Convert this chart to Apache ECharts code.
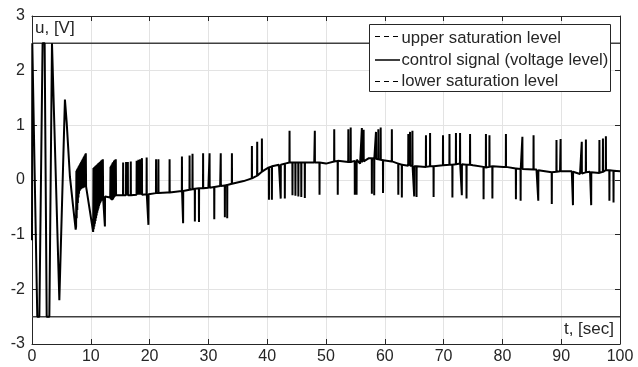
<!DOCTYPE html>
<html><head><meta charset="utf-8">
<script src="https://cdn.jsdelivr.net/npm/echarts@6/dist/echarts.min.js"></script>
<style>html,body{margin:0;padding:0;background:#fff}#c{width:638px;height:367px}</style>
</head><body><div id="c"></div>
<script>
// x ticks and y ticks
const xTicks = [0,10,20,30,40,50,60,70,80,90,100];
const yTicks = [-3,-2,-1,0,1,2,3];
const upperLevel = 2.5;
const lowerLevel = -2.5;
// base path of the control signal [t, u]
const basePath = [
[0,-1.1],[0.05,2.5],[0.3,2.5],[0.9,-2.5],[1.25,-2.5],[1.8,2.5],[2.15,2.5],[2.5,-2.5],[2.95,-2.5],[3.4,2.5],[3.74,2.5],[4.65,-2.2],[5.6,1.47],[5.9,1.05],[6.45,0.06],[7.0,-0.49],[7.43,-0.91],
[7.50,-0.85],[7.55,0.17],[7.60,-0.7],[7.65,0.19],[7.70,-0.55],[7.75,0.21],[7.80,-0.42],[7.85,0.23],[7.90,-0.32],[7.95,0.25],[8.00,-0.25],[8.05,0.27],[8.10,-0.2],[8.15,0.29],[8.20,-0.18],[8.25,0.31],[8.30,-0.17],[8.35,0.33],[8.40,-0.16],[8.45,0.35],[8.50,-0.15],[8.55,0.37],[8.60,-0.15],[8.65,0.39],[8.70,-0.14],[8.75,0.41],[8.80,-0.14],[8.85,0.43],[8.90,-0.13],[8.95,0.45],[9.00,-0.13],[9.05,0.47],[9.10,-0.12],[9.15,0.49],[9.20,-0.12],
[9.5,-0.12],[10.4,-0.95],
[10.45,0.22],[10.5,-0.9],[10.55,0.23],[10.6,-0.85],[10.65,0.24],[10.7,-0.8],[10.75,0.25],[10.8,-0.75],[10.85,0.26],[10.9,-0.7],[10.95,0.27],[11.0,-0.65],[11.05,0.28],[11.1,-0.6],[11.15,0.29],[11.2,-0.56],[11.25,0.3],[11.3,-0.52],[11.35,0.31],[11.4,-0.48],[11.45,0.32],[11.5,-0.45],[11.55,0.33],[11.6,-0.42],[11.65,0.34],[11.7,-0.4],[11.75,0.35],[11.8,-0.38],[11.85,0.36],[11.9,-0.37],[11.95,0.37],[12.0,-0.36],[12.05,0.38],[12.1,-0.33],
[12.6,-0.3],[13.3,-0.32],
[13.35,0.24],[13.4,-0.35],[13.45,0.26],[13.5,-0.36],[13.55,0.28],[13.6,-0.37],[13.65,0.3],[13.7,-0.36],[13.75,0.32],[13.8,-0.35],[13.85,0.33],[13.9,-0.33],[13.95,0.35],[14.0,-0.31],[14.05,0.36],[14.1,-0.3],[14.15,0.37],[14.2,-0.29],[14.25,0.38],[14.3,-0.28],
[15,-0.28],[18,-0.27],[20,-0.25],[23,-0.23],[25.5,-0.2],[27.5,-0.16],[30,-0.14],[32,-0.11],[34,-0.07],[36,-0.02],[37.5,0.03],[38.5,0.1],[39.5,0.18],[40.5,0.24],[42,0.28],[44,0.32],[48,0.32],[50,0.3],[51.5,0.35],[54,0.33],[55,0.37],[55.8,0.3],[57.3,0.4],[59,0.37],[61.4,0.34],[63,0.27],[67,0.24],[70,0.27],[72.8,0.3],[75,0.27],[77.3,0.23],[78.4,0.25],[80.2,0.24],[82.4,0.21],[85.8,0.19],[88.7,0.13],[89.8,0.16],[91.8,0.16],[93.2,0.11],[94.9,0.15],[96.6,0.12],[97.7,0.19],[100,0.16]
];
// upward spikes [t, base, peak]
const upSpikes = [
[15.5,-0.28,0.32],[16.0,-0.28,0.33],[16.3,-0.28,0.33],[16.8,-0.28,0.34],[17.8,-0.27,0.35],[18.1,-0.27,0.37],[18.4,-0.27,0.38],[18.7,-0.27,0.40],[19.5,-0.26,0.41],[21.1,-0.24,0.38],[21.5,-0.24,0.38],[23.4,-0.23,0.38],[25.5,-0.2,0.43],[26.8,-0.18,0.45],[27.3,-0.17,0.48],[29.1,-0.15,0.49],[30.2,-0.14,0.49],[32.1,-0.11,0.49],[34.0,-0.07,0.49],[37.4,0.03,0.62],[38.3,0.08,0.70],[39.1,0.15,0.76],[43.8,0.32,0.90],[48.1,0.32,0.90],[51.4,0.34,0.93],[53.8,0.33,0.93],[54.2,0.33,0.96],[56.1,0.32,0.95],[56.4,0.34,0.92],[58.5,0.39,0.88],[58.9,0.38,0.93],[59.3,0.37,0.96],[61.2,0.34,0.93],[64.0,0.26,0.84],[64.3,0.26,0.88],[64.7,0.26,0.90],[67.0,0.24,0.82],[67.7,0.25,0.86],[69.9,0.27,0.82],[71.0,0.28,0.84],[72.1,0.29,0.86],[72.8,0.3,0.86],[74.5,0.28,0.84],[77.2,0.23,0.84],[77.8,0.24,0.82],[80.6,0.24,0.84],[83.4,0.2,0.79],[85.3,0.19,0.82],[89.2,0.15,0.73],[89.9,0.16,0.75],[93.5,0.12,0.70],[94.2,0.14,0.74],[96.5,0.13,0.73],[97.1,0.15,0.76],[97.6,0.18,0.80]
];
// downward spikes [t, base, peak]
const downSpikes = [
[12.4,-0.3,-0.85],[19.8,-0.26,-0.82],[25.7,-0.2,-0.79],[27.7,-0.16,-0.76],[28.4,-0.15,-0.77],[31.0,-0.13,-0.72],[32.8,-0.1,-0.68],[33.2,-0.09,-0.70],[40.3,0.23,-0.36],[40.8,0.25,-0.36],[42.3,0.28,-0.34],[43.0,0.3,-0.34],[44.3,0.32,-0.28],[44.8,0.32,-0.29],[45.3,0.32,-0.30],[45.8,0.32,-0.31],[46.4,0.32,-0.33],[48.9,0.32,-0.27],[52.0,0.35,-0.27],[54.9,0.35,-0.27],[55.2,0.37,-0.27],[57.8,0.4,-0.25],[58.2,0.39,-0.28],[59.7,0.36,-0.24],[62.3,0.3,-0.27],[62.9,0.28,-0.32],[65.0,0.25,-0.30],[65.4,0.25,-0.31],[68.3,0.25,-0.31],[71.5,0.28,-0.32],[73.1,0.29,-0.28],[73.9,0.28,-0.34],[76.8,0.24,-0.35],[78.3,0.25,-0.34],[82.3,0.21,-0.35],[83.1,0.2,-0.38],[86.1,0.18,-0.38],[88.4,0.14,-0.44],[92.0,0.15,-0.46],[95.1,0.14,-0.46],[98.2,0.18,-0.38],[98.9,0.17,-0.41]
];
const seriesNames = ['upper saturation level','control signal (voltage level)','lower saturation level'];

// merge base path and spikes into one time-ordered path
const pts = basePath.map(p => [p[0], p[1]]);
upSpikes.concat(downSpikes).forEach(s => {
  pts.push([s[0]-0.02, s[1]], [s[0], s[2]], [s[0]+0.02, s[1]]);
});
pts.sort((a,b) => a[0]-b[0]);

const FONT = 'Liberation Sans, Arial, Helvetica, sans-serif';
const AX = '#262626';
const chart = echarts.init(document.getElementById('c'), null, {renderer:'canvas'});
chart.setOption({
  animation: false,
  backgroundColor: '#fff',
  grid: {left: 32, right: 18, top: 16, bottom: 23, containLabel: false},
  xAxis: [{
    type: 'value', min: xTicks[0], max: xTicks[xTicks.length-1], interval: 10,
    axisLine: {show: true, onZero: false, lineStyle: {color: AX, width: 1}},
    axisTick: {show: true, inside: true, length: 5, lineStyle: {color: AX}},
    axisLabel: {color: AX, fontSize: 16, fontFamily: FONT, margin: 5},
    splitLine: {show: true, lineStyle: {color: '#e3e3e3', width: 1}}
  },{
    type: 'value', position: 'top', min: xTicks[0], max: xTicks[xTicks.length-1], interval: 10,
    axisLine: {show: true, onZero: false, lineStyle: {color: AX, width: 1}},
    axisTick: {show: true, inside: true, length: 5, lineStyle: {color: AX}},
    axisLabel: {show: false}, splitLine: {show: false}
  }],
  yAxis: [{
    type: 'value', min: yTicks[0], max: yTicks[yTicks.length-1], interval: 1,
    axisLine: {show: true, onZero: false, lineStyle: {color: AX, width: 1}},
    axisTick: {show: true, inside: true, length: 5, lineStyle: {color: AX}},
    axisLabel: {color: AX, fontSize: 16, fontFamily: FONT, margin: 7},
    splitLine: {show: true, lineStyle: {color: '#e3e3e3', width: 1}}
  },{
    type: 'value', position: 'right', min: yTicks[0], max: yTicks[yTicks.length-1], interval: 1,
    axisLine: {show: true, onZero: false, lineStyle: {color: AX, width: 1}},
    axisTick: {show: true, inside: true, length: 5, lineStyle: {color: AX}},
    axisLabel: {show: false}, splitLine: {show: false}
  }],
  series: [
    {name: seriesNames[0], type: 'line', symbol: 'none', data: [[xTicks[0], upperLevel], [xTicks[xTicks.length-1], upperLevel]],
     lineStyle: {color: '#404040', width: 1.5}, z: 3},
    {name: seriesNames[1], type: 'line', symbol: 'none', data: pts,
     lineStyle: {color: '#000', width: 2}, z: 4},
    {name: seriesNames[2], type: 'line', symbol: 'none', data: [[xTicks[0], lowerLevel], [xTicks[xTicks.length-1], lowerLevel]],
     lineStyle: {color: '#404040', width: 1.5}, z: 3}
  ],
  graphic: [
    {type: 'text', left: 35, top: 20, z: 10, style: {text: 'u, [V]', fill: AX, font: '17px ' + FONT}},
    {type: 'text', right: 24, top: 321, z: 10, style: {text: 't, [sec]', fill: AX, font: '17px ' + FONT}},
    // legend box
    {type: 'rect', z: 20, shape: {x: 369.5, y: 24.5, width: 241, height: 67},
     style: {fill: '#fff', stroke: AX, lineWidth: 1}},
    {type: 'line', z: 21, shape: {x1: 375, y1: 36.5, x2: 400, y2: 36.5},
     style: {stroke: '#000', lineWidth: 1.2, lineDash: [5, 4]}},
    {type: 'line', z: 21, shape: {x1: 375, y1: 60, x2: 400, y2: 60},
     style: {stroke: '#000', lineWidth: 1.5}},
    {type: 'line', z: 21, shape: {x1: 375, y1: 81.5, x2: 400, y2: 81.5},
     style: {stroke: '#000', lineWidth: 1.2, lineDash: [5, 4]}},
    {type: 'text', z: 21, x: 401.5, y: 38.5, style: {text: seriesNames[0], fill: AX, font: '16.7px ' + FONT, verticalAlign: 'middle'}},
    {type: 'text', z: 21, x: 401.5, y: 60.5, style: {text: seriesNames[1], fill: AX, font: '16.7px ' + FONT, verticalAlign: 'middle'}},
    {type: 'text', z: 21, x: 401.5, y: 81.5, style: {text: seriesNames[2], fill: AX, font: '16.7px ' + FONT, verticalAlign: 'middle'}}
  ]
});
</script></body></html>
